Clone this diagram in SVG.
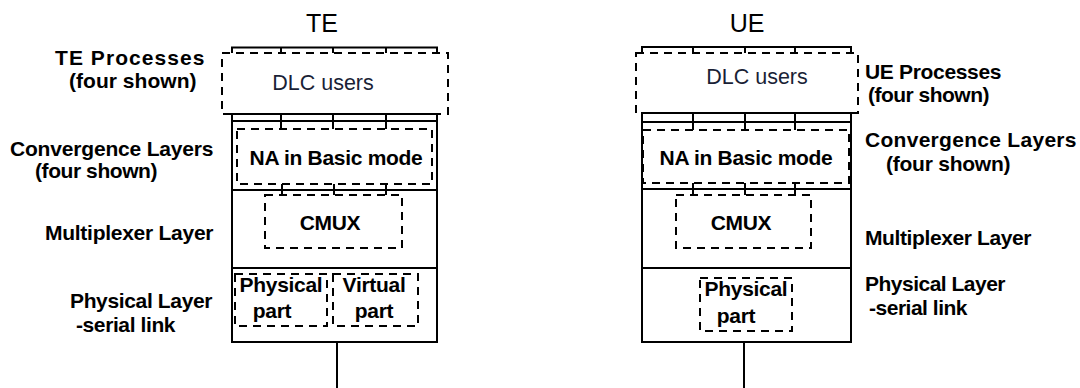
<svg xmlns="http://www.w3.org/2000/svg" width="1080" height="388" viewBox="0 0 1080 388">
  <style>
    .solid { fill: none; stroke: #000; stroke-width: 2; }
    .dash { fill: none; stroke: #000; stroke-width: 2; stroke-dasharray: 8 6; }
    .title { font-family: "Liberation Sans", Arial, sans-serif; font-size: 25px; fill: #000; text-anchor: middle; }
    .lbl { font-family: "Liberation Sans", Arial, sans-serif; font-size: 21px; font-weight: bold; fill: #000; letter-spacing: -0.5px; }
    .inner { font-family: "Liberation Sans", Arial, sans-serif; font-size: 21px; font-weight: bold; fill: #000; text-anchor: middle; letter-spacing: -0.3px; }
    .users { font-family: "Liberation Sans", Arial, sans-serif; font-size: 21.5px; fill: #1a1f36; text-anchor: middle; }
  </style>
  <rect width="1080" height="388" fill="#fff"/>

  <!-- TE protocol stack -->
  <g id="te-stack">
    <text class="title" x="322" y="32">TE</text>
    <rect class="solid" x="232" y="114" width="205" height="228"/>
    <line class="solid" x1="232" y1="121" x2="437" y2="121"/>
    <line class="solid" x1="232" y1="190" x2="437" y2="190"/>
    <line class="solid" x1="232" y1="268" x2="437" y2="268"/>
    <path class="solid" d="M232 53 V47.5 H437 V53"/>
  </g>
  <g id="te-dlc-users">
    <rect class="dash" x="222" y="53" width="226" height="61"/>
    <text class="users" x="323" y="90">DLC users</text>
  </g>
  <g id="te-convergence">
    <rect class="dash" x="237" y="129" width="195" height="55"/>
    <text class="inner" x="336" y="165">NA in Basic mode</text>
  </g>
  <g id="te-cmux">
    <rect class="dash" x="265" y="195" width="137" height="53"/>
    <text class="inner" x="330" y="230">CMUX</text>
  </g>
  <g id="te-physical">
    <rect class="dash" x="235" y="274" width="92" height="52"/>
    <text class="inner" x="281" y="292">Physical</text>
    <text class="inner" x="272" y="318">part</text>
  </g>
  <g id="te-virtual">
    <rect class="dash" x="333" y="274" width="85" height="52"/>
    <text class="inner" x="374" y="292">Virtual</text>
    <text class="inner" x="374" y="318">part</text>
  </g>

  <!-- UE protocol stack -->
  <g id="ue-stack">
    <text class="title" x="747" y="32">UE</text>
    <rect class="solid" x="642" y="113" width="209" height="229"/>
    <line class="solid" x1="642" y1="122" x2="851" y2="122"/>
    <line class="solid" x1="642" y1="189" x2="851" y2="189"/>
    <line class="solid" x1="642" y1="268" x2="851" y2="268"/>
    <path class="solid" d="M642 53 V47 H851 V53"/>
  </g>
  <g id="ue-dlc-users">
    <rect class="dash" x="636" y="53" width="222" height="60"/>
    <text class="users" x="757" y="84">DLC users</text>
  </g>
  <g id="ue-convergence">
    <rect class="dash" x="643" y="130" width="206" height="53"/>
    <text class="inner" x="746" y="165">NA in Basic mode</text>
  </g>
  <g id="ue-cmux">
    <rect class="dash" x="676" y="195" width="135" height="53"/>
    <text class="inner" x="741" y="230">CMUX</text>
  </g>
  <g id="ue-physical">
    <rect class="dash" x="700" y="278" width="92" height="53"/>
    <text class="inner" x="746" y="296">Physical</text>
    <text class="inner" x="736" y="323">part</text>
  </g>

  <!-- layer names -->
  <g id="te-labels">
    <text class="lbl" x="55" y="65" textLength="149">TE Processes</text>
    <text class="lbl" x="69" y="88" textLength="127">(four shown)</text>
    <text class="lbl" x="10" y="156" textLength="203">Convergence Layers</text>
    <text class="lbl" x="35" y="178" textLength="122">(four shown)</text>
    <text class="lbl" x="45" y="240" textLength="168">Multiplexer Layer</text>
    <text class="lbl" x="70" y="308" textLength="142">Physical Layer</text>
    <text class="lbl" x="76" y="332" textLength="99">-serial link</text>
  </g>
  <g id="ue-labels">
    <text class="lbl" x="865" y="79" textLength="136">UE Processes</text>
    <text class="lbl" x="868" y="102" textLength="121">(four shown)</text>
    <text class="lbl" x="865" y="147" textLength="211">Convergence Layers</text>
    <text class="lbl" x="886" y="171" textLength="124">(four shown)</text>
    <text class="lbl" x="865" y="245" textLength="166">Multiplexer Layer</text>
    <text class="lbl" x="865" y="291" textLength="140">Physical Layer</text>
    <text class="lbl" x="869" y="315" textLength="98">-serial link</text>
  </g>

  <!-- channel links between layers and the serial line -->
  <g id="connectors" class="solid">
    <path d="M281 47.5 V53 M333 47.5 V53 M386 47.5 V53"/>
    <path d="M281 114 V129 M333 114 V129 M386 114 V129"/>
    <path d="M282 184 V195 M334 184 V195 M386 184 V195"/>
    <path d="M693 47 V53 M745 47 V53 M795 47 V53"/>
    <path d="M693 113 V130 M745 113 V130 M795 113 V130"/>
    <path d="M693 183 V195 M745 183 V195 M795 183 V195"/>
    <line x1="337" y1="342" x2="337" y2="388"/>
    <line x1="744" y1="342" x2="744" y2="388"/>
  </g>
</svg>
